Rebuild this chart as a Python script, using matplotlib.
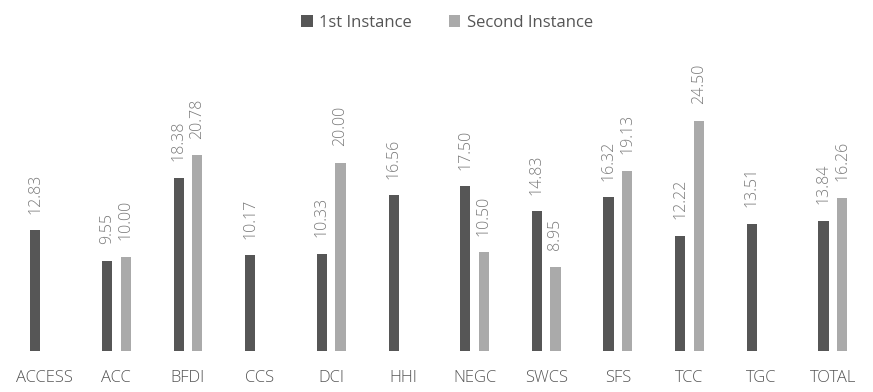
import matplotlib

matplotlib.use("Agg")
import matplotlib.pyplot as plt
import numpy as np

categories = ["ACCESS", "ACC", "BFDI", "CCS", "DCI", "HHI",
              "NEGC", "SWCS", "SFS", "TCC", "TGC", "TOTAL"]
first = [12.83, 9.55, 18.38, 10.17, 10.33, 16.56,
         17.50, 14.83, 16.32, 12.22, 13.51, 13.84]
second = [None, 10.00, 20.78, None, 20.00, None,
          10.50, 8.95, 19.13, 24.50, None, 16.26]

DARK = "#565656"
LIGHT = "#aaaaaa"
TEXT = "#7a7a7a"

plt.rcParams["font.family"] = ["Open Sans", "DejaVu Sans"]

fig = plt.figure(figsize=(8.73, 3.92), dpi=100)
ax = fig.add_axes([0.01, 0.1046, 0.985, 0.72])

x = np.arange(len(categories))
off, w = 0.13, 0.14


def label(ax, xs, ys):
    for xi, yi in zip(xs, ys):
        ax.annotate(f"{yi:.2f}", (xi, yi), xytext=(0, 12), textcoords="offset points",
                    rotation=90, ha="center", va="bottom", fontsize=11.5,
                    color=TEXT, fontweight="light")


ax.bar(x - off, first, w, color=DARK, label="1st Instance")
label(ax, x - off, first)

xs2 = [xi + off for xi, v in zip(x, second) if v is not None]
ys2 = [v for v in second if v is not None]
ax.bar(xs2, ys2, w, color=LIGHT, label="Second Instance")
label(ax, xs2, ys2)

ax.set_xlim(-0.5, len(categories) - 0.5)
ax.set_ylim(0, 30)
ax.set_xticks(x)
ax.set_xticklabels(categories, fontsize=12, color="#555555", fontweight="light")
ax.tick_params(axis="x", length=0, pad=14)
ax.set_yticks([])
for s in ax.spines.values():
    s.set_visible(False)

fig.legend(loc="upper center", bbox_to_anchor=(0.512, 1.0), ncol=2, frameon=False,
           fontsize=12, handlelength=0.7, handleheight=0.7, handletextpad=0.4,
           columnspacing=2.2, labelcolor="#555555")

fig.savefig("out.png", dpi=100)
